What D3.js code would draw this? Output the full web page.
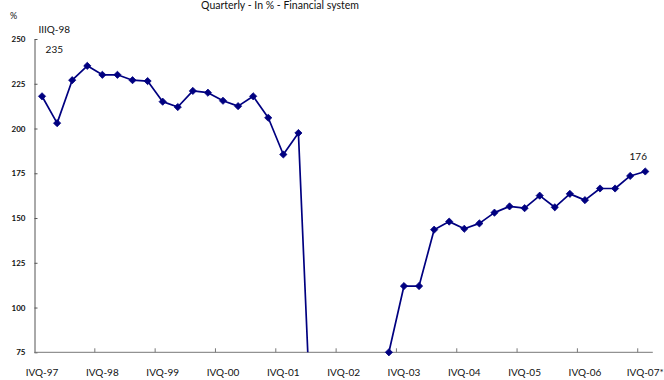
<!DOCTYPE html>
<html>
<head>
<meta charset="utf-8">
<script src="https://cdn.jsdelivr.net/npm/d3@7"></script>
<style>
  html, body { margin: 0; padding: 0; background: #fff; }
  svg { display: block; font-family: Lato, "Open Sans", sans-serif; }
</style>
</head>
<body>
<svg id="chart" width="664" height="380"></svg>
<script>
// Quarterly ratio, in %, financial system (IVQ-97 .. IVQ-07*)
const quarters = [
  "IVQ-97",
  "IQ-98", "IIQ-98", "IIIQ-98", "IVQ-98",
  "IQ-99", "IIQ-99", "IIIQ-99", "IVQ-99",
  "IQ-00", "IIQ-00", "IIIQ-00", "IVQ-00",
  "IQ-01", "IIQ-01", "IIIQ-01", "IVQ-01",
  "IQ-02", "IIQ-02", "IIIQ-02", "IVQ-02",
  "IQ-03", "IIQ-03", "IIIQ-03", "IVQ-03",
  "IQ-04", "IIQ-04", "IIIQ-04", "IVQ-04",
  "IQ-05", "IIQ-05", "IIIQ-05", "IVQ-05",
  "IQ-06", "IIQ-06", "IIIQ-06", "IVQ-06",
  "IQ-07", "IIQ-07", "IIIQ-07", "IVQ-07*"
];
const values = [
  218,
  203, 227, 235, 230,
  230, 227, 226.5, 215,
  212, 221, 220, 215.5,
  212.5, 218, 206, 185.5,
  197.5, 0, 0, 0,
  0, 0, 75, 112,
  112, 143.5, 148, 144,
  147, 153, 156.5, 155.5,
  162.5, 156, 163.5, 160,
  166.5, 166.5, 173.5, 176
];
const yTicks = [75, 100, 125, 150, 175, 200, 225, 250];
const xTickLabels = ["IVQ-97", "IVQ-98", "IVQ-99", "IVQ-00", "IVQ-01", "IVQ-02",
                     "IVQ-03", "IVQ-04", "IVQ-05", "IVQ-06", "IVQ-07*"];
const title = "Quarterly - In % - Financial system";
const unitLabel = "%";
// labelled points: [quarter, text lines, offset from the point]
const callouts = [
  { q: "IIIQ-98", lines: ["IIIQ-98", "235"], dx: -33, dy: -13 },
  { q: "IVQ-07*", lines: ["176"], dx: -7, dy: -11 }
];

const svg = d3.select("#chart");
const plot = { left: 34.5, right: 652.8, top: 39, bottom: 352.3 };

const x = d3.scaleBand().domain(quarters).range([plot.left, plot.right]).padding(0);
const y = d3.scaleLinear().domain([75, 250]).range([plot.bottom, plot.top]);
const cx = q => x(q) + x.bandwidth() / 2;

const data = quarters.map((q, i) => ({ q, v: values[i] }));

// title and unit
svg.append("text").attr("x", 280).attr("y", 8.5).attr("text-anchor", "middle")
  .attr("font-size", 10.5).attr("fill", "#111").text(title);
svg.append("text").attr("x", 10).attr("y", 19)
  .attr("font-size", 9).attr("fill", "#111").text(unitLabel);

// y axis
const yAxis = svg.append("g").attr("transform", `translate(${plot.left},0)`)
  .call(d3.axisLeft(y).tickValues(yTicks).tickSizeInner(-3).tickSizeOuter(0).tickPadding(9));
yAxis.select(".domain").attr("stroke", "#555").attr("stroke-width", 1);
yAxis.selectAll(".tick line").attr("stroke", "#555");
yAxis.selectAll(".tick text").attr("font-size", 8).attr("font-weight", "bold")
  .attr("fill", "#111").attr("font-family", "Lato, sans-serif");

// x axis: line, ticks at quarter boundaries every year, labels centred on IVQ points
const xg = svg.append("g");
xg.append("line").attr("x1", plot.left).attr("x2", plot.right)
  .attr("y1", plot.bottom).attr("y2", plot.bottom)
  .attr("stroke", "#777").attr("stroke-width", 1);
const boundaryQuarters = quarters.filter((q, i) => i > 0 && i % 4 === 0);
xg.selectAll("line.tick").data(boundaryQuarters).join("line").attr("class", "tick")
  .attr("x1", q => x(q)).attr("x2", q => x(q))
  .attr("y1", plot.bottom).attr("y2", plot.bottom - 4)
  .attr("stroke", "#777").attr("stroke-width", 1);
xg.selectAll("text").data(xTickLabels).join("text")
  .attr("x", q => cx(q)).attr("y", 376).attr("text-anchor", "middle")
  .attr("font-size", 10).attr("fill", "#111").text(q => q);

// series line, clipped to the plotting area
svg.append("clipPath").attr("id", "plotClip").append("rect")
  .attr("x", plot.left).attr("y", 0)
  .attr("width", plot.right - plot.left).attr("height", plot.bottom);
const line = d3.line().x(d => cx(d.q)).y(d => y(d.v));
svg.append("path").datum(data).attr("clip-path", "url(#plotClip)")
  .attr("d", line).attr("fill", "none")
  .attr("stroke", "#000080").attr("stroke-width", 1.7).attr("stroke-linejoin", "round");

// diamond markers
const r = 3.6;
const diamond = `M0,${-r}L${r},0L0,${r}L${-r},0Z`;
svg.selectAll("path.mk").data(data.filter(d => d.v >= y.domain()[0])).join("path")
  .attr("class", "mk").attr("d", diamond)
  .attr("transform", d => `translate(${cx(d.q)},${y(d.v)})`)
  .attr("fill", "#000080").attr("stroke", "#000080").attr("stroke-width", 0.8);

// value callouts
callouts.forEach(c => {
  const d = data.find(e => e.q === c.q);
  const px = cx(d.q) + c.dx, py = y(d.v) + c.dy;
  c.lines.forEach((t, k) => {
    svg.append("text").attr("x", px)
      .attr("y", py - (c.lines.length - 1 - k) * 20)
      .attr("text-anchor", "middle").attr("font-size", 10).attr("fill", "#111").text(t);
  });
});
</script>
</body>
</html>
